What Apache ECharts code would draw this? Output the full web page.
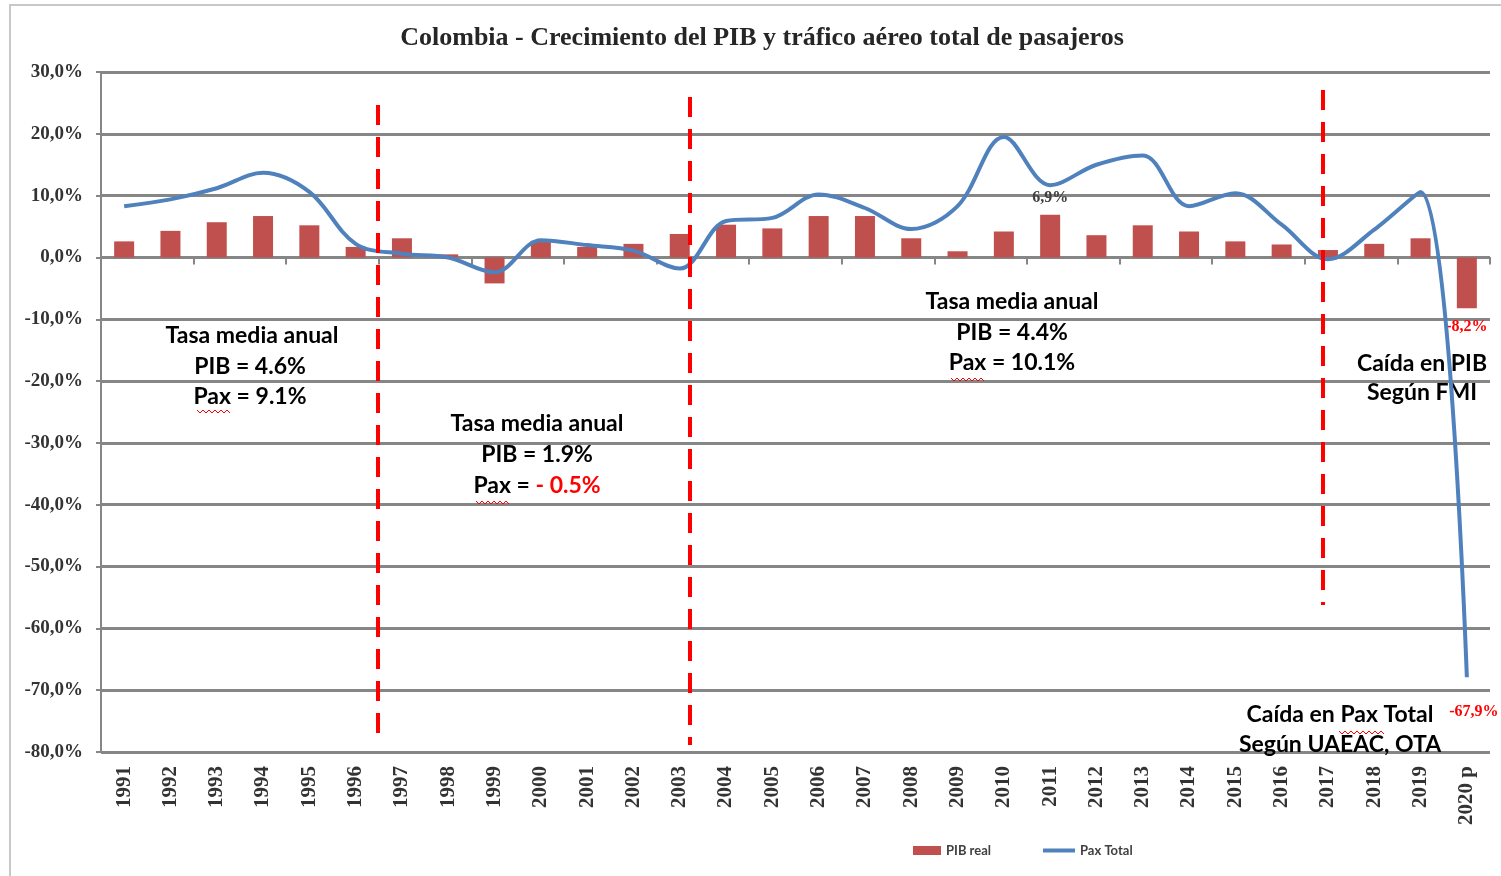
<!DOCTYPE html>
<html>
<head>
<meta charset="utf-8">
<script src="https://cdn.jsdelivr.net/npm/echarts@6/dist/echarts.min.js"></script>
<style>
html,body{margin:0;padding:0;background:#fff;}
#chart{width:1501px;height:876px;}
</style>
</head>
<body>
<div id="chart"></div>
<script>
// ---- data ----
const years = ['1991','1992','1993','1994','1995','1996','1997','1998','1999','2000',
  '2001','2002','2003','2004','2005','2006','2007','2008','2009','2010',
  '2011','2012','2013','2014','2015','2016','2017','2018','2019','2020 p'];
const pibReal = [2.6, 4.3, 5.7, 6.7, 5.2, 1.7, 3.1, 0.5, -4.2, 2.7,
  1.7, 2.2, 3.8, 5.3, 4.7, 6.7, 6.7, 3.1, 1.0, 4.2,
  6.9, 3.6, 5.2, 4.2, 2.6, 2.1, 1.2, 2.2, 3.1, -8.2];
const paxTotal = [8.3, 9.4, 11.2, 13.7, 10.6, 2.2, 0.6, 0.0, -2.4, 2.8,
  2.0, 1.1, -1.8, 5.9, 6.4, 10.2, 8.0, 4.6, 8.3, 19.5,
  11.7, 15.0, 16.5, 8.3, 10.4, 5.3, -0.3, 4.5, 10.6, -67.9];
const yTicks = {min: -80, max: 30, interval: 10};
const labelledPib = {'2011': true, '2020 p': true};
const labelledPax = {'2020 p': true};

const chart = echarts.init(document.getElementById('chart'));
const fmt = v => (v < 0 ? '-' : '') + Math.abs(v).toFixed(1).replace('.', ',') + '%';
const serif = '"Liberation Serif", serif';
const sans = 'Lato, "Open Sans", sans-serif';

const barData = pibReal.map((v, i) => {
  const item = {value: v};
  if (labelledPib[years[i]]) {
    item.label = v < 0
      ? {show: true, position: 'bottom', distance: 11, color: '#FF0000'}
      : {show: true, position: 'top', distance: 9, color: '#404040'};
  }
  return item;
});
const lineData = paxTotal.map((v, i) => {
  const item = {value: v};
  if (labelledPax[years[i]]) {
    item.label = {show: true, position: 'bottom', distance: 27, offset: [7, 0], color: '#FF0000'};
  }
  return item;
});

function zigzag(x0, x1, y) {
  const pts = [];
  let up = true;
  for (let x = x0; x <= x1; x += 3) { pts.push([x, up ? y : y + 3]); up = !up; }
  return {type: 'polyline', z: 5, shape: {points: pts}, style: {stroke: '#FF0000', lineWidth: 1, fill: null}};
}
const annFont = 'bold 23px ' + sans;
function txt(x, y, text, extra) {
  return Object.assign({
    type: 'text', x: x, y: y, z: 1,
    style: {text: text, fill: '#000', font: annFont, align: 'center', verticalAlign: 'middle'}
  }, extra || {});
}
function vdash(x, y0, y1) {
  return {type: 'line', z: 4, shape: {x1: x, y1: y0, x2: x, y2: y1},
    style: {stroke: '#FF0000', lineWidth: 4, lineDash: [20, 12]}};
}

const option = {
  backgroundColor: '#fff',
  animation: false,
  title: {
    text: 'Colombia - Crecimiento del PIB y tráfico aéreo total de pasajeros',
    left: 757, top: 20, textAlign: 'center',
    textStyle: {fontFamily: serif, fontWeight: 'bold', fontSize: 26, color: '#262626'}
  },
  legend: [
    {
      left: 908, top: 839,
      itemWidth: 28, itemHeight: 9,
      textStyle: {fontFamily: sans, fontSize: 13, fontWeight: 'bold', color: '#404040'},
      data: [{name: 'PIB real', icon: 'rect'}]
    },
    {
      left: 1038, top: 839,
      itemWidth: 32, itemHeight: 4,
      textStyle: {fontFamily: sans, fontSize: 13, fontWeight: 'bold', color: '#404040'},
      data: [{name: 'Pax Total', icon: 'rect'}]
    }
  ],
  grid: {left: 101, right: 11, top: 72, bottom: 124, containLabel: false},
  xAxis: [
    {
      type: 'category', data: years, position: 'bottom',
      axisLine: {onZero: true, lineStyle: {color: '#868686', width: 2}},
      axisTick: {show: true, length: 7, inside: false, lineStyle: {color: '#868686', width: 2}},
      axisLabel: {show: false}
    },
    {
      type: 'category', data: years, position: 'bottom',
      axisLine: {show: false, onZero: false},
      axisTick: {show: false},
      axisLabel: {
        show: true, rotate: 90, interval: 0, margin: 14,
        fontFamily: serif, fontWeight: 'bold', fontSize: 21, color: '#333'
      }
    }
  ],
  yAxis: {
    type: 'value', min: yTicks.min, max: yTicks.max, interval: yTicks.interval,
    axisLine: {show: true, lineStyle: {color: '#868686', width: 2}},
    axisTick: {show: true, length: 5, lineStyle: {color: '#868686', width: 2}},
    splitLine: {show: true, lineStyle: {color: '#868686', width: 3}},
    axisLabel: {
      formatter: v => fmt(v), margin: 18,
      fontFamily: serif, fontWeight: 'bold', fontSize: 19, color: '#333'
    }
  },
  series: [
    {
      name: 'PIB real', type: 'bar', xAxisIndex: 0, data: barData, barWidth: 20,
      itemStyle: {color: '#C0504D'},
      label: {show: false, formatter: p => fmt(p.value), fontFamily: serif, fontWeight: 'bold', fontSize: 16},
      z: 2
    },
    {
      name: 'Pax Total', type: 'line', xAxisIndex: 0, data: lineData, smooth: 0.35,
      symbol: 'circle', symbolSize: 0.1, showSymbol: true,
      lineStyle: {color: '#4F81BD', width: 4},
      itemStyle: {color: '#4F81BD'},
      label: {show: false, formatter: p => fmt(p.value), fontFamily: serif, fontWeight: 'bold', fontSize: 16},
      z: 3
    }
  ],
  graphic: [
    {type: 'rect', z: 0, shape: {x: 10, y: 5, width: 1520, height: 900},
      style: {fill: null, stroke: '#C8C8C8', lineWidth: 2}},
    vdash(378, 105, 735),
    vdash(690, 97, 745),
    vdash(1323, 90, 605),
    txt(252, 336, 'Tasa media anual'),
    txt(250, 367, 'PIB = 4.6%'),
    txt(250, 397, 'Pax = 9.1%'),
    zigzag(197, 230, 410),
    txt(537, 424, 'Tasa media anual'),
    txt(537, 455, 'PIB = 1.9%'),
    {type: 'text', x: 537, y: 486, z: 1, style: {
      text: '{k|Pax = }{r|- 0.5%}', align: 'center', verticalAlign: 'middle',
      rich: {k: {font: annFont, fill: '#000'}, r: {font: annFont, fill: '#FF0000'}}
    }},
    zigzag(476, 510, 501),
    txt(1012, 302, 'Tasa media anual'),
    txt(1012, 333, 'PIB = 4.4%'),
    txt(1012, 363, 'Pax = 10.1%'),
    zigzag(951, 985, 378),
    txt(1422, 364, 'Caída en PIB'),
    txt(1422, 393, 'Según FMI'),
    txt(1340, 715, 'Caída en Pax Total'),
    txt(1340, 745, 'Según UAEAC, OTA'),
    zigzag(1339, 1385, 731)
  ]
};
chart.setOption(option);
</script>
</body>
</html>
